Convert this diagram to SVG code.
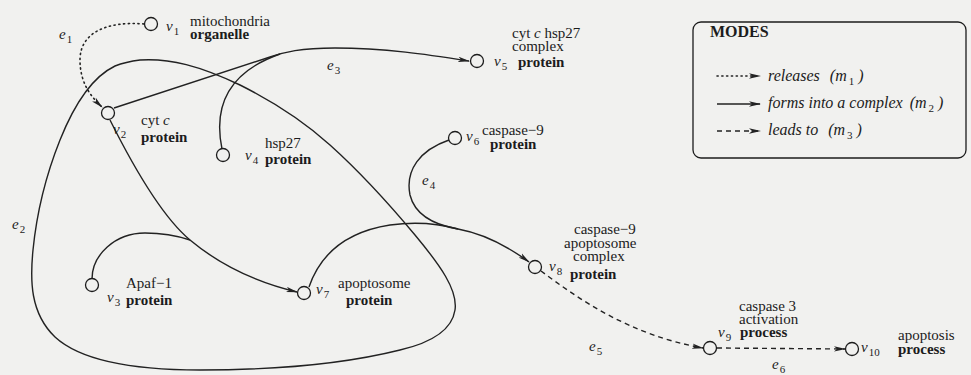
<svg xmlns="http://www.w3.org/2000/svg" width="971" height="375" viewBox="0 0 971 375" font-family="'Liberation Serif', 'Times New Roman', serif">
<defs>
<marker id="ah" markerWidth="12" markerHeight="6" refX="11" refY="3" orient="auto" markerUnits="userSpaceOnUse">
<path d="M0,0.3 L12,3 L0,5.7 L3,3 z" fill="#222"/>
</marker>
<style>
.t{font-family:"Liberation Serif","Times New Roman",serif;font-size:15px;fill:#1c1c1c}
.b{font-weight:bold}
.i{font-style:italic}
.s{font-size:11px;font-style:normal}
.nd{fill:#f1f1ef;stroke:#1c1c1c;stroke-width:1.3}
.e{fill:none;stroke:#222;stroke-width:1.4}
.dot{stroke-dasharray:1.2 3.6;stroke-linecap:round;stroke-width:1.6}
.dash{stroke-dasharray:5 4}
.lg{font-size:16px;font-style:italic}
.hd{font-size:16px;font-weight:bold}
</style>
</defs>
<rect width="971" height="375" fill="#f1f1ef"/>

<g id="connectors">
  <path class="e dot" d="M144,24 C108,21 80,32 80,60 C80,82 90,96 102,107" marker-end="url(#ah)"/>
  <path class="e" d="M140,60 C170,58 200,66 240,85 C270,100 300,118 330,145 C360,172 390,205 415,235 C440,265 458,290 455,310 C452,330 430,343 400,350 C360,360 300,370 200,370 C130,370 80,360 55,337 C30,313 30,280 33,250 C37,210 48,170 60,140 C72,110 90,78 115,66 C125,62 132,61 140,60 Z"/>
  <path class="e" d="M110,120 C130,160 160,215 190,240 C220,265 255,282 297,292" marker-end="url(#ah)"/>
  <path class="e" d="M92,279 C92,255 115,233 145,233 C165,233 178,236 190,240"/>
  <path class="e" d="M114,108 L270,57 C285,52 300,48 335,48 C385,48 430,55 469,61" marker-end="url(#ah)"/>
  <path class="e" d="M222,149 C215,115 220,75 280,54"/>
  <path class="e" d="M449,140 C420,150 405,170 410,195 C415,215 435,225 458,229 C485,234 510,248 529,262" marker-end="url(#ah)"/>
  <path class="e" d="M309,287 C320,255 345,232 390,225 C420,221 440,224 458,229"/>
  <path class="e dash" d="M541,271 C580,300 630,335 703,348" marker-end="url(#ah)"/>
  <path class="e dash" d="M717,348 L845,349" marker-end="url(#ah)"/>

  <text class="t i" x="59" y="39">e<tspan class="s" dx="1" dy="4">1</tspan></text>
  <text class="t i" x="12" y="229">e<tspan class="s" dx="1" dy="4">2</tspan></text>
  <text class="t i" x="327" y="70">e<tspan class="s" dx="1" dy="4">3</tspan></text>
  <text class="t i" x="422" y="185">e<tspan class="s" dx="1" dy="4">4</tspan></text>
  <text class="t i" x="589" y="351">e<tspan class="s" dx="1" dy="4">5</tspan></text>
  <text class="t i" x="772" y="369">e<tspan class="s" dx="1" dy="4">6</tspan></text>
</g>

<g id="v1">
  <circle class="nd" cx="151" cy="24" r="6.5"/>
  <text class="t i" x="166" y="31">v<tspan class="s" dx="1" dy="4">1</tspan></text>
  <text class="t" x="190" y="26">mitochondria</text>
  <text class="t b" x="190" y="39">organelle</text>
</g>
<g id="v2">
  <circle class="nd" cx="108" cy="113" r="6.5"/>
  <text class="t i" x="113" y="134">v<tspan class="s" dx="1" dy="4">2</tspan></text>
  <text class="t" x="141" y="125">cyt <tspan class="i">c</tspan></text>
  <text class="t b" x="141" y="142">protein</text>
</g>
<g id="v3">
  <circle class="nd" cx="92" cy="285" r="6.5"/>
  <text class="t i" x="107" y="302">v<tspan class="s" dx="1" dy="4">3</tspan></text>
  <text class="t" x="126" y="288">Apaf−1</text>
  <text class="t b" x="126" y="305">protein</text>
</g>
<g id="v4">
  <circle class="nd" cx="223" cy="155" r="6.5"/>
  <text class="t i" x="245" y="160">v<tspan class="s" dx="1" dy="4">4</tspan></text>
  <text class="t" x="265" y="148">hsp27</text>
  <text class="t b" x="265" y="164">protein</text>
</g>
<g id="v5">
  <circle class="nd" cx="477" cy="61" r="6.5"/>
  <text class="t i" x="494" y="66">v<tspan class="s" dx="1" dy="4">5</tspan></text>
  <text class="t" x="512" y="38">cyt <tspan class="i">c</tspan> hsp27</text>
  <text class="t" x="512" y="51">complex</text>
  <text class="t b" x="518" y="67">protein</text>
</g>
<g id="v6">
  <circle class="nd" cx="455" cy="138" r="6.5"/>
  <text class="t i" x="466" y="141">v<tspan class="s" dx="1" dy="4">6</tspan></text>
  <text class="t" x="482" y="135">caspase−9</text>
  <text class="t b" x="490" y="149">protein</text>
</g>
<g id="v7">
  <circle class="nd" cx="304" cy="293" r="6.5"/>
  <text class="t i" x="316" y="294">v<tspan class="s" dx="1" dy="4">7</tspan></text>
  <text class="t" x="338" y="288">apoptosome</text>
  <text class="t b" x="346" y="305">protein</text>
</g>
<g id="v8">
  <circle class="nd" cx="535" cy="267" r="6.5"/>
  <text class="t i" x="549" y="271">v<tspan class="s" dx="1" dy="4">8</tspan></text>
  <text class="t" x="574" y="234">caspase−9</text>
  <text class="t" x="564" y="248">apoptosome</text>
  <text class="t" x="573" y="261">complex</text>
  <text class="t b" x="570" y="279">protein</text>
</g>
<g id="v9">
  <circle class="nd" cx="710" cy="348" r="6.5"/>
  <text class="t i" x="718" y="337">v<tspan class="s" dx="1" dy="4">9</tspan></text>
  <text class="t" x="739" y="311">caspase 3</text>
  <text class="t" x="739" y="324">activation</text>
  <text class="t b" x="740" y="337">process</text>
</g>
<g id="v10">
  <circle class="nd" cx="852" cy="349" r="6.5"/>
  <text class="t i" x="861" y="352">v<tspan class="s" dx="1" dy="4">10</tspan></text>
  <text class="t" x="898" y="340">apoptosis</text>
  <text class="t b" x="898" y="354">process</text>
</g>

<g id="legend">
  <rect x="693" y="22" width="273" height="136" rx="8" fill="none" stroke="#1c1c1c" stroke-width="1.3"/>
  <text class="t hd" x="710" y="37">MODES</text>
  <path class="e dot" d="M717,76 L760,76" marker-end="url(#ah)"/>
  <path class="e" d="M717,104 L760,104" marker-end="url(#ah)"/>
  <path class="e dash" d="M717,131 L760,131" marker-end="url(#ah)"/>
  <text class="t lg" x="768" y="81">releases<tspan dx="10">(m</tspan><tspan class="s" dx="2" dy="4">1</tspan><tspan dx="4" dy="-4">)</tspan></text>
  <text class="t lg" x="768" y="108">forms into a complex<tspan dx="7">(m</tspan><tspan class="s" dx="2" dy="4">2</tspan><tspan dx="4" dy="-4">)</tspan></text>
  <text class="t lg" x="768" y="135">leads to<tspan dx="10">(m</tspan><tspan class="s" dx="2" dy="4">3</tspan><tspan dx="4" dy="-4">)</tspan></text>
</g>
</svg>
